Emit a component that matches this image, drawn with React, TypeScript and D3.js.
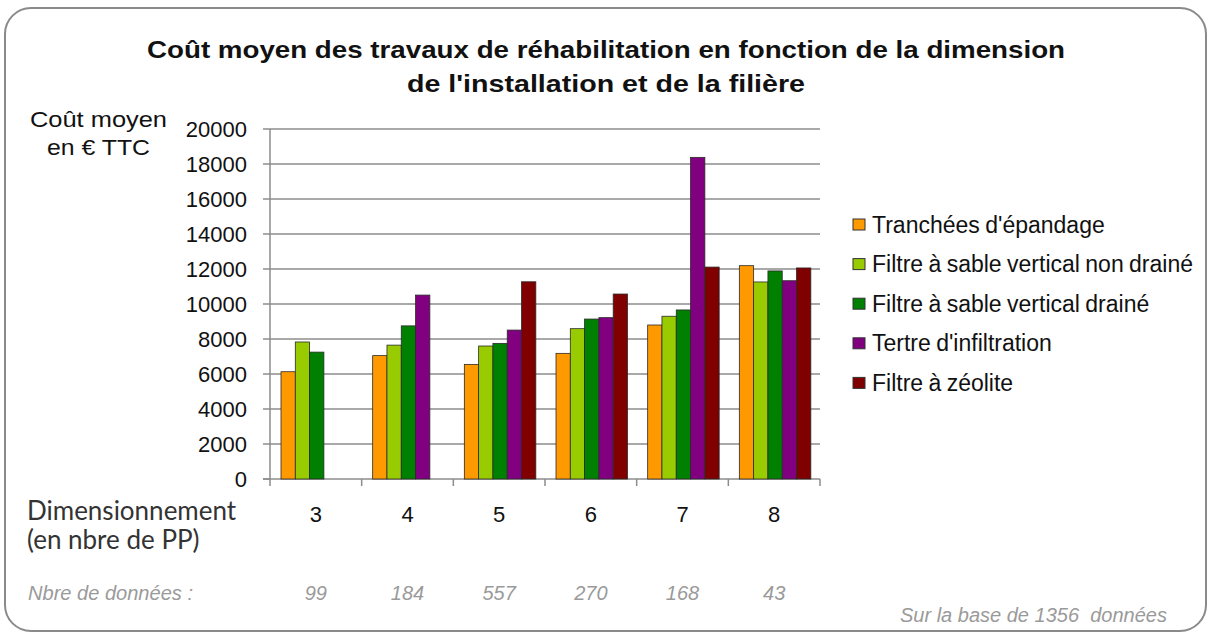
import React, { useEffect, useRef } from 'react';
import * as d3 from 'd3';

const categories = ['3', '4', '5', '6', '7', '8'];
const counts = ['99', '184', '557', '270', '168', '43'];
const seriesNames = [
  "Tranchées d'épandage",
  'Filtre à sable vertical non drainé',
  'Filtre à sable vertical drainé',
  "Tertre d'infiltration",
  'Filtre à zéolite',
];
const seriesColors = ['#FF9900', '#99CC00', '#008000', '#800080', '#800000'];
// one array per series, aligned with categories (null = no data)
const tranchees = [6130, 7050, 6550, 7180, 8800, 12190];
const sableNonDraine = [7830, 7650, 7600, 8590, 9300, 11260];
const sableDraine = [7250, 8750, 7750, 9140, 9660, 11890];
const tertre = [null, 10510, 8510, 9220, 18380, 11330];
const zeolite = [null, null, 11270, 10570, 12110, 12060];
const seriesValues = [tranchees, sableNonDraine, sableDraine, tertre, zeolite];
const yTicks = d3.range(0, 20001, 2000);

const App: React.FC = () => {
  const ref = useRef<SVGSVGElement>(null);

  useEffect(() => {
    document.body.style.margin = '0';
    const svg = d3.select(ref.current);
    svg.selectAll('*').remove();

    const font = "'Liberation Sans', Arial, sans-serif";

    // frame
    svg.append('rect')
      .attr('x', 5).attr('y', 8).attr('width', 1201).attr('height', 623)
      .attr('rx', 26).attr('ry', 26)
      .attr('fill', '#fff').attr('stroke', '#8a8a8a').attr('stroke-width', 2);

    // title
    const titleLines = [
      { t: 'Coût moyen des travaux de réhabilitation en fonction de la dimension', y: 58, w: 918 },
      { t: "de l'installation et de la filière", y: 92, w: 398 },
    ];
    titleLines.forEach(l => {
      svg.append('text')
        .attr('x', 606).attr('y', l.y)
        .attr('text-anchor', 'middle')
        .attr('textLength', l.w).attr('lengthAdjust', 'spacingAndGlyphs')
        .style('font-family', font).style('font-size', '24px').style('font-weight', 'bold')
        .style('fill', '#111')
        .text(l.t);
    });

    const x0 = d3.scaleBand<string>().domain(categories).range([270, 820]);
    const bw = x0.bandwidth();
    const x1 = d3.scaleBand<number>().domain(d3.range(seriesNames.length))
      .range([bw * 0.12, bw * 0.9]);
    const y = d3.scaleLinear().domain([0, 20000]).range([479, 129]);

    // gridlines
    svg.append('g').selectAll('line').data(yTicks.slice(1)).enter().append('line')
      .attr('x1', 270).attr('x2', 820)
      .attr('y1', d => y(d)).attr('y2', d => y(d))
      .attr('stroke', '#8c8c8c').attr('stroke-width', 1.5);

    // y axis
    const yAxis = svg.append('g');
    yAxis.append('line').attr('x1', 270).attr('x2', 270).attr('y1', y(20000)).attr('y2', y(0))
      .attr('stroke', '#8c8c8c').attr('stroke-width', 1.5);
    yAxis.selectAll('line.tk').data(yTicks).enter().append('line').attr('class', 'tk')
      .attr('x1', 263).attr('x2', 270).attr('y1', d => y(d)).attr('y2', d => y(d))
      .attr('stroke', '#8c8c8c').attr('stroke-width', 1.5);
    yAxis.selectAll('text').data(yTicks).enter().append('text')
      .attr('x', 247).attr('y', d => y(d) + 8)
      .attr('text-anchor', 'end')
      .style('font-family', font).style('font-size', '22px').style('fill', '#111')
      .text(d => String(d));

    // x axis
    svg.append('line').attr('x1', 263).attr('x2', 820).attr('y1', y(0)).attr('y2', y(0))
      .attr('stroke', '#8c8c8c').attr('stroke-width', 1.5);
    const bounds = categories.map(c => x0(c) as number).concat([820]);
    svg.append('g').selectAll('line').data(bounds).enter().append('line')
      .attr('x1', d => d).attr('x2', d => d).attr('y1', y(0)).attr('y2', y(0) + 7)
      .attr('stroke', '#8c8c8c').attr('stroke-width', 1.5);

    // bars
    seriesValues.forEach((vals, si) => {
      svg.append('g').selectAll('rect')
        .data(vals.map((v, ci) => ({ v, c: categories[ci] })).filter(d => d.v != null))
        .enter().append('rect')
        .attr('x', d => (x0(d.c) as number) + (x1(si) as number))
        .attr('width', x1.bandwidth())
        .attr('y', d => y(d.v as number))
        .attr('height', d => y(0) - y(d.v as number))
        .attr('fill', seriesColors[si])
        .attr('stroke', '#2a2a2a').attr('stroke-width', 0.8);
    });

    // category labels
    svg.append('g').selectAll('text').data(categories).enter().append('text')
      .attr('x', d => (x0(d) as number) + bw / 2)
      .attr('y', 522)
      .attr('text-anchor', 'middle')
      .style('font-family', font).style('font-size', '22px').style('fill', '#111')
      .text(d => d);

    // counts
    svg.append('g').selectAll('text').data(counts).enter().append('text')
      .attr('x', (d, i) => (x0(categories[i]) as number) + bw / 2)
      .attr('y', 600)
      .attr('text-anchor', 'middle')
      .style('font-family', font).style('font-size', '20px').style('font-style', 'italic')
      .style('fill', '#9a9a9a')
      .text(d => d);

    // y axis title
    svg.append('text').attr('x', 98.5).attr('y', 127).attr('text-anchor', 'middle')
      .attr('textLength', 137).attr('lengthAdjust', 'spacingAndGlyphs')
      .style('font-family', font).style('font-size', '22px').style('fill', '#111')
      .text('Coût moyen');
    svg.append('text').attr('x', 98.5).attr('y', 155).attr('text-anchor', 'middle')
      .attr('textLength', 103).attr('lengthAdjust', 'spacingAndGlyphs')
      .style('font-family', font).style('font-size', '22px').style('fill', '#111')
      .text('en € TTC');

    // x axis title
    const lato = "Lato, 'Noto Sans', sans-serif";
    svg.append('text').attr('x', 27).attr('y', 520)
      .style('font-family', lato).style('font-size', '26px').style('fill', '#333')
      .text('Dimensionnement');
    svg.append('text').attr('x', 27).attr('y', 549)
      .style('font-family', lato).style('font-size', '26px').style('fill', '#333')
      .text('(en nbre de PP)');

    svg.append('text').attr('x', 28).attr('y', 600)
      .attr('textLength', 165).attr('lengthAdjust', 'spacingAndGlyphs')
      .style('font-family', font).style('font-size', '20px').style('font-style', 'italic')
      .style('fill', '#9a9a9a')
      .text('Nbre de données :');

    svg.append('text').attr('x', 900).attr('y', 622)
      .style('font-family', font).style('font-size', '20px').style('font-style', 'italic')
      .style('fill', '#9a9a9a').style('white-space', 'pre')
      .text('Sur la base de 1356  données');

    // legend
    const legend = svg.append('g').selectAll('g').data(seriesNames).enter().append('g')
      .attr('transform', (d, i) => `translate(853, ${224.5 + i * 39.6})`);
    legend.append('rect')
      .attr('x', 0).attr('y', -5.5).attr('width', 12).attr('height', 11)
      .attr('fill', (d, i) => seriesColors[i])
      .attr('stroke', '#333').attr('stroke-width', 1);
    legend.append('text')
      .attr('x', 19).attr('y', 8)
      .style('font-family', font).style('font-size', '23px').style('fill', '#111')
      .style('word-spacing', '-1px')
      .text(d => d);
  }, []);

  return (
    <svg ref={ref} width={1212} height={637} style={{ display: 'block', background: '#fff' }} />
  );
};

export default App;
